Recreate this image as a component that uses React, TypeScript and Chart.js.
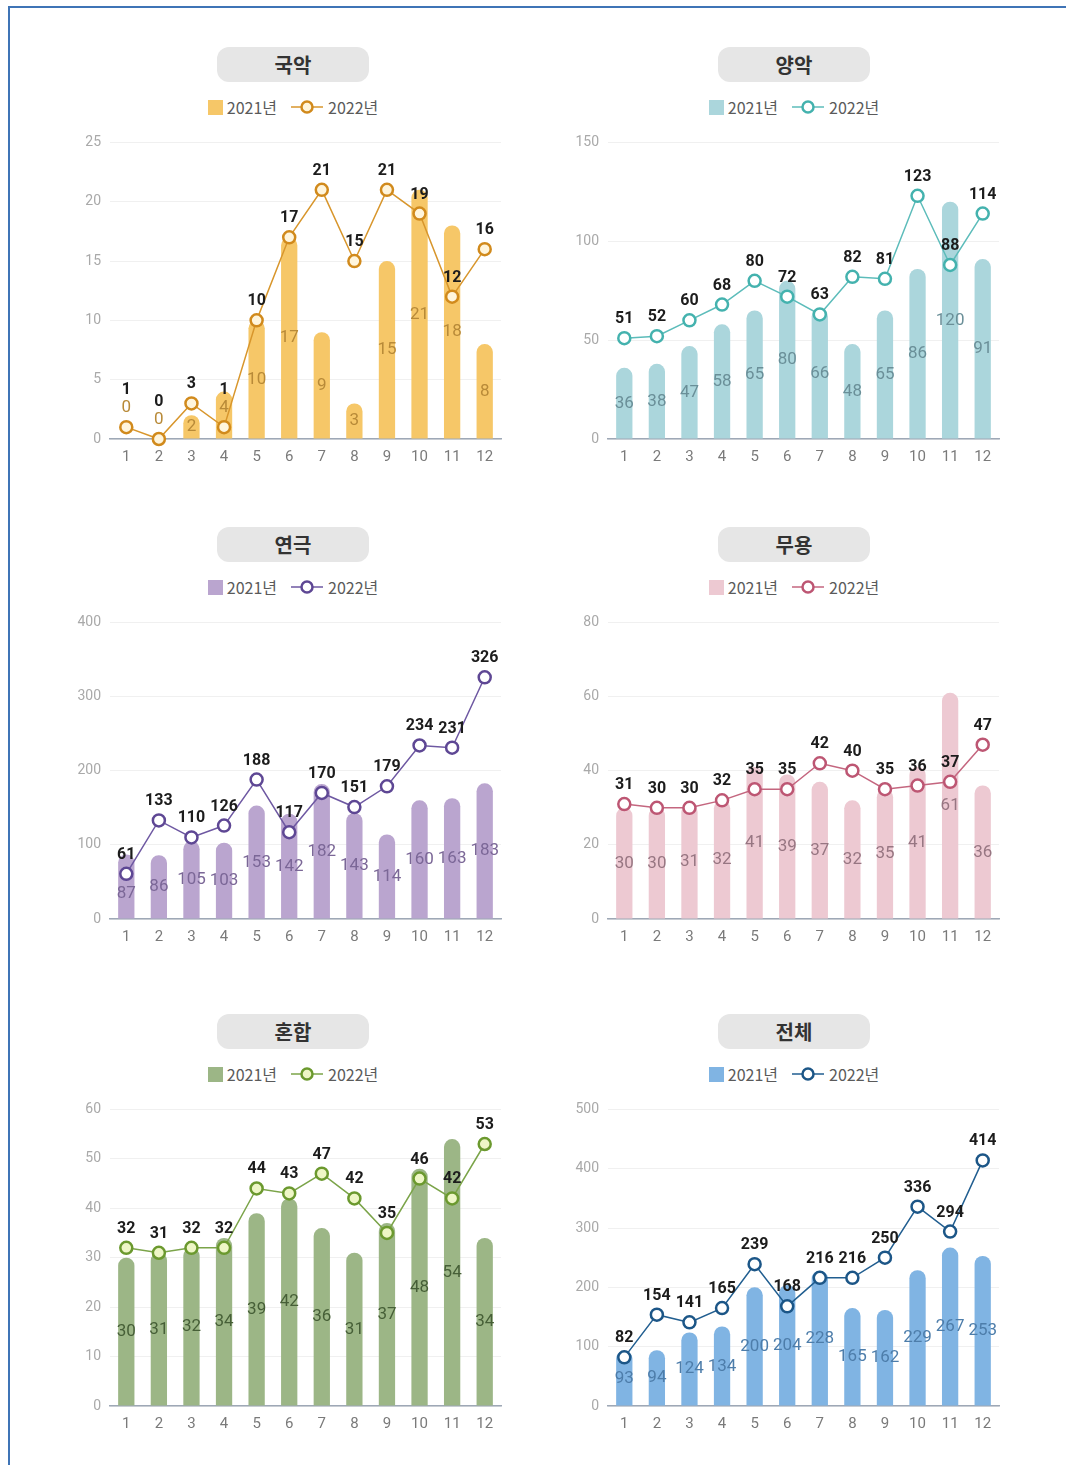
import React, { useEffect, useRef } from "react";
import { Chart, registerables } from "chart.js";

Chart.register(...registerables);

const MONTHS = ["1", "2", "3", "4", "5", "6", "7", "8", "9", "10", "11", "12"];
const SERIES_2021 = "2021년";
const SERIES_2022 = "2022년";

const GUGAK_2021 = [0, 0, 2, 4, 10, 17, 9, 3, 15, 21, 18, 8];
const GUGAK_2022 = [1, 0, 3, 1, 10, 17, 21, 15, 21, 19, 12, 16];
const YANGAK_2021 = [36, 38, 47, 58, 65, 80, 66, 48, 65, 86, 120, 91];
const YANGAK_2022 = [51, 52, 60, 68, 80, 72, 63, 82, 81, 123, 88, 114];
const THEATER_2021 = [87, 86, 105, 103, 153, 142, 182, 143, 114, 160, 163, 183];
const THEATER_2022 = [61, 133, 110, 126, 188, 117, 170, 151, 179, 234, 231, 326];
const DANCE_2021 = [30, 30, 31, 32, 41, 39, 37, 32, 35, 41, 61, 36];
const DANCE_2022 = [31, 30, 30, 32, 35, 35, 42, 40, 35, 36, 37, 47];
const MIXED_2021 = [30, 31, 32, 34, 39, 42, 36, 31, 37, 48, 54, 34];
const MIXED_2022 = [32, 31, 32, 32, 44, 43, 47, 42, 35, 46, 42, 53];
const TOTAL_2021 = [93, 94, 124, 134, 200, 204, 228, 165, 162, 229, 267, 253];
const TOTAL_2022 = [82, 154, 141, 165, 239, 168, 216, 216, 250, 336, 294, 414];

const TITLES = ["국악", "양악", "연극", "무용", "혼합", "전체"];
const Y_MAX = [25, 150, 400, 80, 60, 500];
const Y_STEP = [5, 50, 100, 20, 10, 100];

const NUM_FONT = "Roboto, 'DejaVu Sans', sans-serif";
const KR_FONT = "'Noto Sans CJK KR', 'Noto Sans', sans-serif";

type Style = { bar: string; line: string; marker: string; fill: string; barLabel: string };

const STYLES: Style[] = [
  { bar: "#f6c768", line: "#d8962c", marker: "#d18a1c", fill: "#fff5dc", barLabel: "#b88a38" },
  { bar: "#abd6dc", line: "#5cbcba", marker: "#44b2ae", fill: "#ffffff", barLabel: "#6a8f98" },
  { bar: "#baa5cf", line: "#6e58a2", marker: "#5e4794", fill: "#ffffff", barLabel: "#7b6797" },
  { bar: "#edc9d2", line: "#c4667f", marker: "#bd5673", fill: "#ffffff", barLabel: "#977682" },
  { bar: "#9cb686", line: "#7ba449", marker: "#6b992e", fill: "#eef6c6", barLabel: "#465f37" },
  { bar: "#80b4e3", line: "#215e90", marker: "#1c5687", fill: "#ffffff", barLabel: "#4d7daa" },
];

const DATA_2021 = [GUGAK_2021, YANGAK_2021, THEATER_2021, DANCE_2021, MIXED_2021, TOTAL_2021];
const DATA_2022 = [GUGAK_2022, YANGAK_2022, THEATER_2022, DANCE_2022, MIXED_2022, TOTAL_2022];

const ROW_OFF = [0, 480, 967];

const valueLabels = {
  id: "valueLabels",
  afterDatasetsDraw(chart: any, _args: any, opts: any) {
    const ctx = chart.ctx;
    const barMeta = chart.getDatasetMeta(0);
    const lineMeta = chart.getDatasetMeta(1);
    const base = chart.scales.y.getPixelForValue(0);
    const barVals = chart.data.datasets[0].data;
    const lineVals = chart.data.datasets[1].data;
    ctx.save();
    ctx.textAlign = "center";
    ctx.textBaseline = "middle";
    barMeta.data.forEach((bar: any, i: number) => {
      const pt = lineMeta.data[i];
      const top = bar.y;
      const h = base - top;
      let by = h >= 20 ? top + h / 2 : top - 10;
      let py = pt.y - 19;
      if (Math.abs(by - pt.y) < 16) {
        if (pt.y + 20 <= base - 8) by = pt.y + 20;
        else {
          by = pt.y - 19;
          py = pt.y - 37;
        }
      }
      ctx.font = `400 17px ${NUM_FONT}`;
      ctx.fillStyle = opts.barLabel;
      ctx.fillText(String(barVals[i]), bar.x, by);
      ctx.font = `700 16px ${NUM_FONT}`;
      ctx.fillStyle = "#1c1c1c";
      ctx.fillText(String(lineVals[i]), pt.x, py);
    });
    ctx.restore();
  },
};

function Panel({ idx }: { idx: number }) {
  const ref = useRef<HTMLCanvasElement | null>(null);
  const st = STYLES[idx];
  const col = idx % 2;
  const row = Math.floor(idx / 2);
  const rowOff = ROW_OFF[row];
  const cx = 293 + col * 501;

  useEffect(() => {
    if (!ref.current) return;
    const chart = new Chart(ref.current, {
      type: "bar",
      data: {
        labels: MONTHS,
        datasets: [
          {
            type: "bar",
            label: SERIES_2021,
            data: DATA_2021[idx],
            backgroundColor: st.bar,
            barPercentage: 0.5,
            categoryPercentage: 1,
            borderRadius: { topLeft: 8, topRight: 8, bottomLeft: 0, bottomRight: 0 },
            borderSkipped: false,
            order: 2,
          } as any,
          {
            type: "line",
            label: SERIES_2022,
            data: DATA_2022[idx],
            borderColor: st.line,
            borderWidth: 1.5,
            pointRadius: 6,
            pointBorderWidth: 2.5,
            pointBackgroundColor: st.fill,
            pointBorderColor: st.marker,
            clip: false,
            order: 1,
          } as any,
        ],
      },
      options: {
        responsive: false,
        animation: false,
        devicePixelRatio: 1,
        layout: { padding: { top: 16, right: 19, left: 0, bottom: 0 } },
        plugins: {
          legend: { display: false },
          tooltip: { enabled: false },
          valueLabels: { barLabel: st.barLabel },
        } as any,
        scales: {
          x: {
            grid: { display: false, drawTicks: false },
            border: { display: true, color: "#9ea8b6", width: 1.5 },
            ticks: { color: "#7a7a7a", font: { family: NUM_FONT, size: 15 }, padding: 9 },
            afterFit: (s: any) => {
              s.height = 36;
            },
          },
          y: {
            min: 0,
            max: Y_MAX[idx],
            ticks: { stepSize: Y_STEP[idx], color: "#a9a9a9", font: { family: NUM_FONT, size: 14 }, padding: 9 },
            grid: { color: "#f0f0f0", drawTicks: false, lineWidth: 1 },
            border: { display: false },
            afterFit: (s: any) => {
              s.width = 70;
            },
          },
        },
      },
      plugins: [valueLabels],
    });
    return () => chart.destroy();
  }, [idx]);

  return (
    <>
      <div
        style={{
          position: "absolute",
          left: cx - 76,
          top: 47 + rowOff,
          width: 152,
          height: 35,
          borderRadius: 12,
          background: "#e6e6e6",
          display: "flex",
          alignItems: "center",
          justifyContent: "center",
          fontFamily: KR_FONT,
          fontWeight: 700,
          fontSize: 20,
          color: "#333",
        }}
      >
        {TITLES[idx]}
      </div>
      <div
        style={{
          position: "absolute",
          left: cx - 120,
          top: 97 + rowOff,
          width: 240,
          height: 20,
          display: "flex",
          alignItems: "center",
          justifyContent: "center",
          fontFamily: KR_FONT,
          fontSize: 16,
          color: "#5a5a5a",
        }}
      >
        <span style={{ width: 15, height: 15, background: st.bar, display: "inline-block" }} />
        <span style={{ marginLeft: 4 }}>{SERIES_2021}</span>
        <svg width={32} height={16} style={{ marginLeft: 14 }}>
          <line x1={0} y1={8} x2={32} y2={8} stroke={st.line} strokeWidth={1.5} />
          <circle cx={16} cy={8} r={5.5} fill={st.fill} stroke={st.marker} strokeWidth={2.5} />
        </svg>
        <span style={{ marginLeft: 5 }}>{SERIES_2022}</span>
      </div>
      <canvas
        ref={ref}
        width={480}
        height={350}
        style={{ position: "absolute", left: 40 + col * 498, top: 125 + rowOff, width: 480, height: 350 }}
      />
    </>
  );
}

export default function App() {
  return (
    <div
      style={{
        position: "absolute",
        left: 0,
        top: 0,
        width: 1066,
        height: 1465,
        overflow: "hidden",
        background: "#ffffff",
      }}
    >
      <div
        style={{
          position: "absolute",
          left: 8,
          top: 6,
          width: 1058,
          height: 1459,
          boxSizing: "border-box",
          borderTop: "2px solid #3f74b6",
          borderLeft: "2px solid #3f74b6",
        }}
      />
      {[0, 1, 2, 3, 4, 5].map((i) => (
        <Panel key={i} idx={i} />
      ))}
    </div>
  );
}
